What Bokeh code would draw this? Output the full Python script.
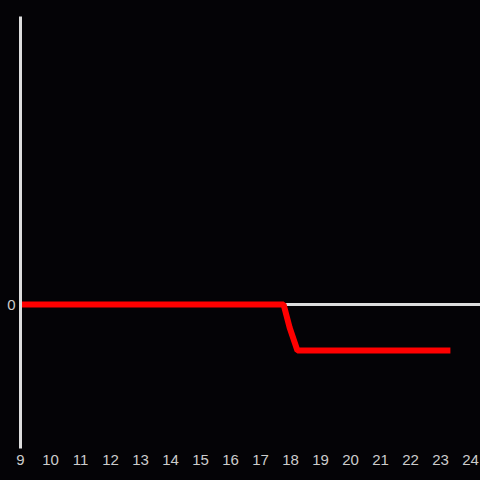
from bokeh.plotting import figure
from bokeh.models import Range1d, FixedTicker, Span
from bokeh.embed import file_html
from bokeh.resources import INLINE

# data
x_vals = [9, 17.77, 17.97, 18.23, 23.33]
y_vals = [0, 0, -0.16, -0.32, -0.32]
x_ticks = list(range(9, 25))
y_ticks = [0]

BG = "#040306"
AX = "#dddddd"
LBL = "#cccccc"

p = figure(width=480, height=480, output_backend="svg", toolbar_location=None,
           x_range=Range1d(9, 24.333), y_range=Range1d(-1, 2),
           min_border_left=20, min_border_right=0, min_border_top=16, min_border_bottom=32)
p.background_fill_color = None
p.border_fill_color = None
p.styles = {"background-color": BG}
p.outline_line_color = None
p.grid.visible = False

p.xaxis.ticker = FixedTicker(ticks=x_ticks)
p.xaxis.axis_line_color = None
p.xaxis.major_tick_line_color = None
p.xaxis.minor_tick_line_color = None
p.xaxis.major_tick_out = 0
p.xaxis.major_tick_in = 0
p.xaxis.major_label_standoff = 6
p.xaxis.major_label_text_color = LBL
p.xaxis.major_label_text_font = "Liberation Sans"
p.xaxis.major_label_text_font_size = "15px"

p.yaxis.ticker = FixedTicker(ticks=y_ticks)
p.yaxis.axis_line_color = AX
p.yaxis.axis_line_width = 3
p.yaxis.major_tick_line_color = None
p.yaxis.minor_tick_line_color = None
p.yaxis.major_tick_out = 0
p.yaxis.major_tick_in = 0
p.yaxis.major_label_standoff = 5
p.yaxis.major_label_text_color = LBL
p.yaxis.major_label_text_font = "Liberation Sans"
p.yaxis.major_label_text_font_size = "15px"

p.add_layout(Span(location=0, dimension="width", line_color=AX, line_width=3, level="underlay"))

p.line(x_vals, y_vals, line_color="#ff0000", line_width=6)

html = file_html(p, INLINE)
html = html.replace("<body>", '<body style="margin:0;background:%s">' % BG, 1)
open("out.html", "w").write(html)
